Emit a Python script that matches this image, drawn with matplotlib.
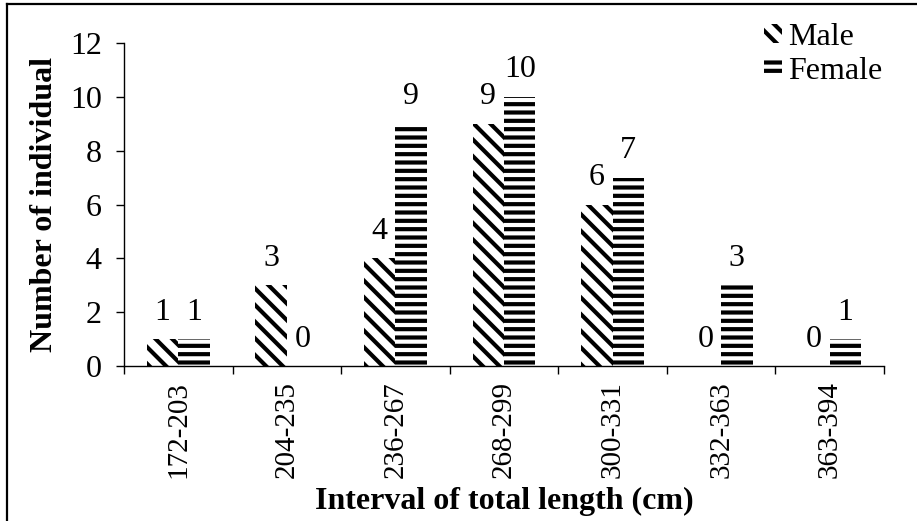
import numpy as np
import matplotlib
matplotlib.use("Agg")
import matplotlib.pyplot as plt
from matplotlib.lines import Line2D

intervals = ["172-203", "204-235", "236-267", "268-299", "300-331", "332-363", "363-394"]
male = [1, 3, 4, 9, 6, 0, 0]
female = [1, 0, 9, 10, 7, 3, 1]
y_ticks = [0, 2, 4, 6, 8, 10, 12]

plt.rcParams["font.family"] = ["Liberation Serif", "DejaVu Serif"]
plt.rcParams["hatch.linewidth"] = 3.0
plt.rcParams["hatch.color"] = "black"

FS = 23
W, H = 917, 521
fig = plt.figure(figsize=(W / 100, H / 100), dpi=100)
ax = fig.add_axes([124 / W, 1 - 366 / H, (884 - 124) / W, (366 - 43) / H])

x = np.arange(len(intervals)) + 0.5
bw = 0.29
bm = ax.bar(x - bw / 2, male, bw, color="white", edgecolor="black", linewidth=0,
            hatch="\\\\", label="Male")
bf = ax.bar(x + bw / 2, female, bw, color="white", edgecolor="black", linewidth=0,
            hatch="--", label="Female")

for bars, vals in ((bm, male), (bf, female)):
    for b, v in zip(bars, vals):
        ax.annotate(str(v), (b.get_x() + b.get_width() / 2, v),
                    xytext=(0, 14), textcoords="offset points",
                    ha="center", va="baseline", fontsize=FS)

ax.set_xlim(0, len(intervals))
ax.set_ylim(0, 12)
ax.set_yticks(y_ticks)
ax.tick_params(axis="y", direction="out", length=6, width=1, labelsize=FS, pad=10)

# boundary ticks without labels, labels at category centres
ax.set_xticks(np.arange(len(intervals) + 1))
ax.set_xticklabels([])
ax.set_xticks(x, minor=True)
ax.set_xticklabels(intervals, minor=True, rotation=90, fontsize=FS - 2)
ax.tick_params(axis="x", which="major", direction="out", length=6, width=1)
ax.tick_params(axis="x", which="minor", length=0, pad=11)

for s in ("top", "right"):
    ax.spines[s].set_visible(False)
for s in ("left", "bottom"):
    ax.spines[s].set_linewidth(1)

ax.set_ylabel("Number of individual", fontsize=FS, fontweight="bold", labelpad=8)
ax.set_xlabel("Interval of total length (cm)", fontsize=FS, fontweight="bold", labelpad=6)

fig.legend(handles=[bm, bf], loc="upper left", bbox_to_anchor=(764 / W, 1 - 23 / H),
           frameon=False, fontsize=FS, handlelength=0.55, handleheight=0.55,
           handletextpad=0.2, labelspacing=0.15, borderpad=0, borderaxespad=0)

# outer frame (only top and left edges visible in the original)
fig.add_artist(Line2D([7 / W, 1], [1 - 4 / H, 1 - 4 / H], color="black", lw=1.6,
                      transform=fig.transFigure))
fig.add_artist(Line2D([7 / W, 7 / W], [0, 1 - 4 / H], color="black", lw=1.6,
                      transform=fig.transFigure))

fig.savefig("out.png", dpi=100)
